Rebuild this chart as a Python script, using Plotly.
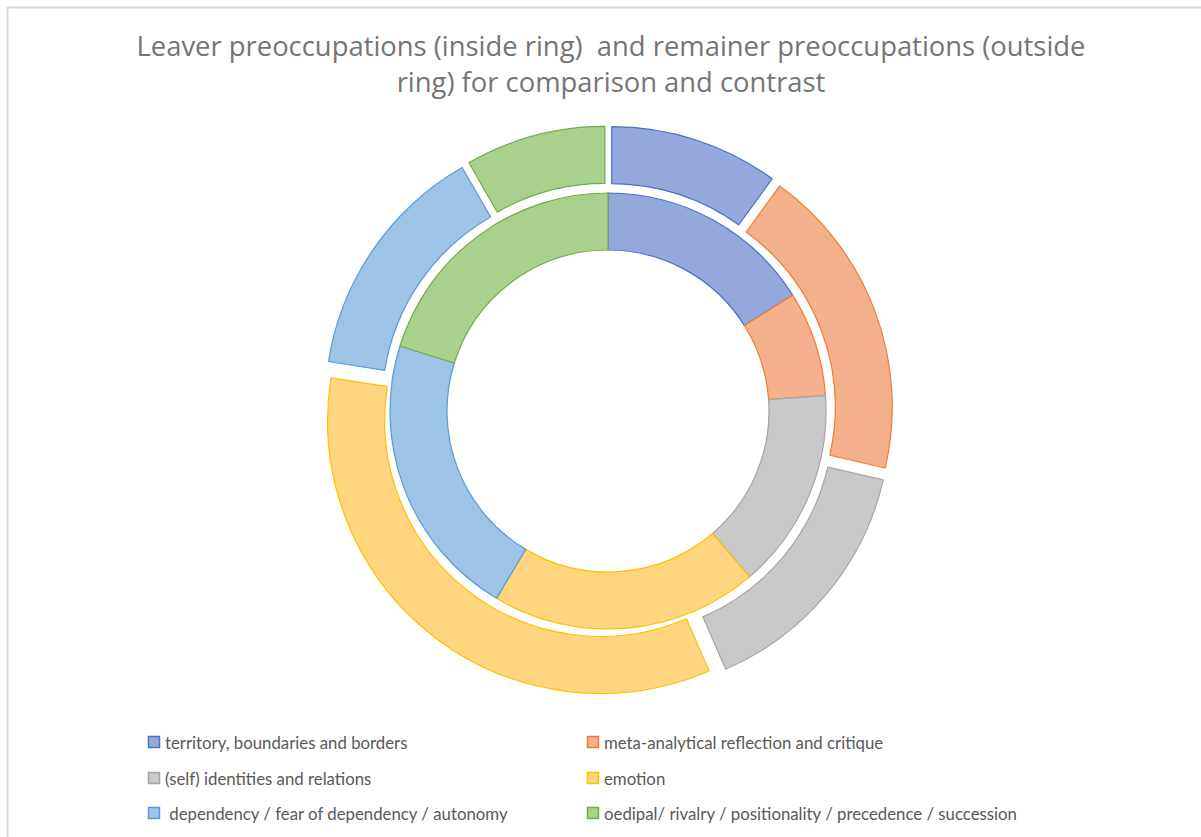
import plotly.graph_objects as go

categories = [
    "territory, boundaries and borders",
    "meta-analytical reflection and critique",
    "(self) identities and relations",
    "emotion",
    " dependency / fear of dependency / autonomy",
    "oedipal/ rivalry / positionality / precedence / succession",
]
leaver_values = [16.1, 7.8, 14.9, 19.8, 21.3, 20.2]       # inside ring
remainer_values = [10.0, 18.6, 14.9, 34.0, 14.2, 8.3]     # outside ring

fill_colors = ["#94A9DB", "#F4B08C", "#C9C9C9", "#FFD580", "#9DC3E6", "#A9D18E"]
line_colors = ["#4472C4", "#ED7D31", "#A5A5A5", "#FFC000", "#5B9BD5", "#70AD47"]

W, H = 1201, 837
cx, cy = 608, 411
R_out_dom = 285
R_in = 218


def dom(r):
    return dict(x=[(cx - r) / W, (cx + r) / W],
                y=[(H - cy - r) / H, (H - cy + r) / H])


fig = go.Figure()
fig.add_trace(go.Pie(
    labels=categories, values=remainer_values, sort=False,
    direction="clockwise", rotation=0, hole=216 / 273,
    pull=[0.044] * 6,
    marker=dict(colors=fill_colors, line=dict(color=line_colors, width=1.2)),
    textinfo="none", hoverinfo="label+value", showlegend=False,
    domain=dom(R_out_dom),
))
fig.add_trace(go.Pie(
    labels=categories, values=leaver_values, sort=False,
    direction="clockwise", rotation=0, hole=161 / 218,
    marker=dict(colors=fill_colors, line=dict(color=line_colors, width=1.2)),
    textinfo="none", hoverinfo="label+value", showlegend=False,
    domain=dom(R_in),
))

shapes = [dict(type="rect", xref="paper", yref="paper",
               x0=7.5 / W, x1=1.02, y0=-0.02, y1=1 - 7.5 / H,
               line=dict(color="#D9D9D9", width=2), fillcolor="rgba(0,0,0,0)")]
annotations = []
col_x = [154, 593]
row_y = [742, 778, 813]
for i, cat in enumerate(categories):
    sx = col_x[i % 2]
    sy = row_y[i // 2]
    shapes.append(dict(type="rect", xref="paper", yref="paper",
                       x0=(sx - 5.5) / W, x1=(sx + 5.5) / W,
                       y0=(H - sy - 5.5) / H, y1=(H - sy + 5.5) / H,
                       fillcolor=fill_colors[i], line=dict(color=line_colors[i], width=1.5)))
    annotations.append(dict(text=cat.replace(" ", "&nbsp;", 1) if cat.startswith(" ") else cat,
                            xref="paper", yref="paper",
                            x=(sx + 9) / W, y=(H - sy) / H, xanchor="left", yanchor="middle",
                            showarrow=False,
                            font=dict(family="Lato", size=16.8, color="#595959")))

fig.update_layout(
    width=W, height=H,
    margin=dict(l=0, r=0, t=0, b=0),
    paper_bgcolor="white", plot_bgcolor="white",
    title=dict(text="Leaver preoccupations (inside ring)  and remainer preoccupations (outside<br>ring) for comparison and contrast",
               x=611 / W, xanchor="center", y=1 - 56 / H, yanchor="middle",
               font=dict(family="Open Sans", size=27.4, color="#757575")),
    shapes=shapes, annotations=annotations,
)
fig.write_html("out.html")
